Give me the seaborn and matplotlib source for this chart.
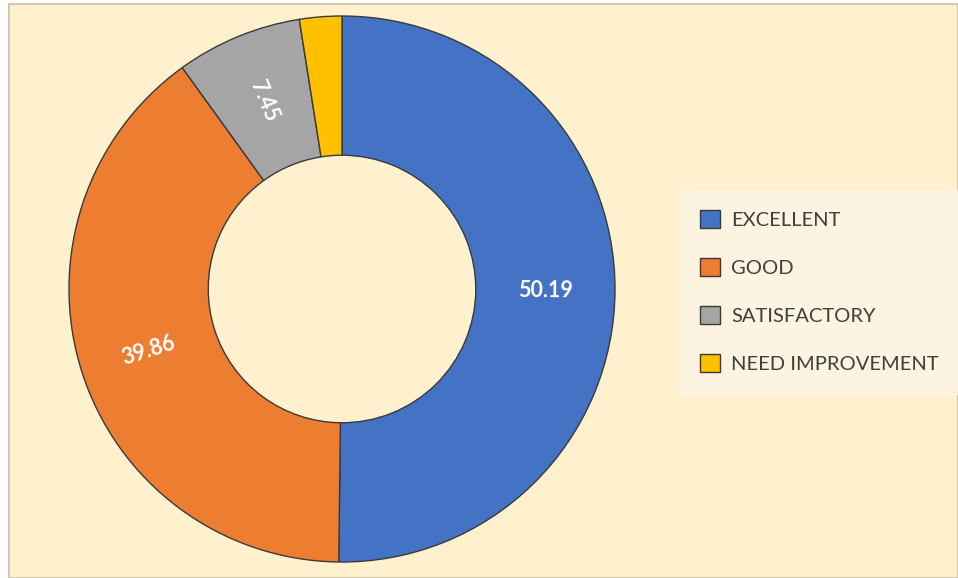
import matplotlib
matplotlib.use("Agg")
import matplotlib.pyplot as plt
import matplotlib.patches as mpatches
import seaborn as sns
import numpy as np

categories = ["EXCELLENT", "GOOD", "SATISFACTORY", "NEED IMPROVEMENT"]
values = [50.19, 39.86, 7.45, 2.50]
show_label = [True, True, True, False]
colors = ["#4472C4", "#ED7D31", "#A5A5A5", "#FFC000"]

sns.set_theme(style="white")
plt.rcParams["font.family"] = ["Lato", "DejaVu Sans"]

W, H = 958, 578
fig = plt.figure(figsize=(W / 100, H / 100), dpi=100, facecolor="white")

# chart area background with border
bg = mpatches.Rectangle((9 / W, 0), 1 - 9 / W, 1 - 4 / H, transform=fig.transFigure,
                        facecolor="#FFF1CE", edgecolor="#CDBFA6", linewidth=1.2, zorder=-10)
fig.patches.append(bg)

cx, cy, r = 342, 289, 273
ax = fig.add_axes([(cx - r) / W, (cy - r) / H, 2 * r / W, 2 * r / H])
ax.set_facecolor("none")
palette = sns.color_palette(colors)
wedges, _ = ax.pie(values, colors=palette, startangle=90, counterclock=False,
                   radius=1.0,
                   wedgeprops=dict(width=0.51, edgecolor="#3A3A3A", linewidth=1.0))
ax.set_xlim(-1, 1)
ax.set_ylim(-1, 1)
ax.set_aspect("equal")
ax.axis("off")

lab_r = 0.745
for w, v, show in zip(wedges, values, show_label):
    if not show:
        continue
    mid = (w.theta1 + w.theta2) / 2.0
    x = lab_r * np.cos(np.deg2rad(mid))
    y = lab_r * np.sin(np.deg2rad(mid))
    rot = ((mid + 180) % 360) - 180
    if rot > 90:
        rot -= 180
    elif rot < -90:
        rot += 180
    ax.text(x, y, f"{v:.2f}", ha="center", va="center", rotation=rot,
            rotation_mode="anchor", color="white", fontsize=15.5, fontweight="bold")

handles = [mpatches.Patch(facecolor=c, edgecolor="#3A3A3A", linewidth=1.0) for c in palette]
leg = fig.legend(handles, categories, loc="upper left",
                 bbox_to_anchor=(680 / W, 1 - 190 / H),
                 frameon=True, fontsize=14.5, labelspacing=1.45,
                 handlelength=1.0, handleheight=1.0, handletextpad=0.55,
                 borderpad=1.0, borderaxespad=0)
frame = leg.get_frame()
frame.set_facecolor("#FCF3E0")
frame.set_edgecolor("#FCF3E0")
frame.set_alpha(1)
frame.set_boxstyle("square", pad=0)
for t in leg.get_texts():
    t.set_color("#404040")

fig.savefig("out.png", dpi=100, facecolor=fig.get_facecolor())
